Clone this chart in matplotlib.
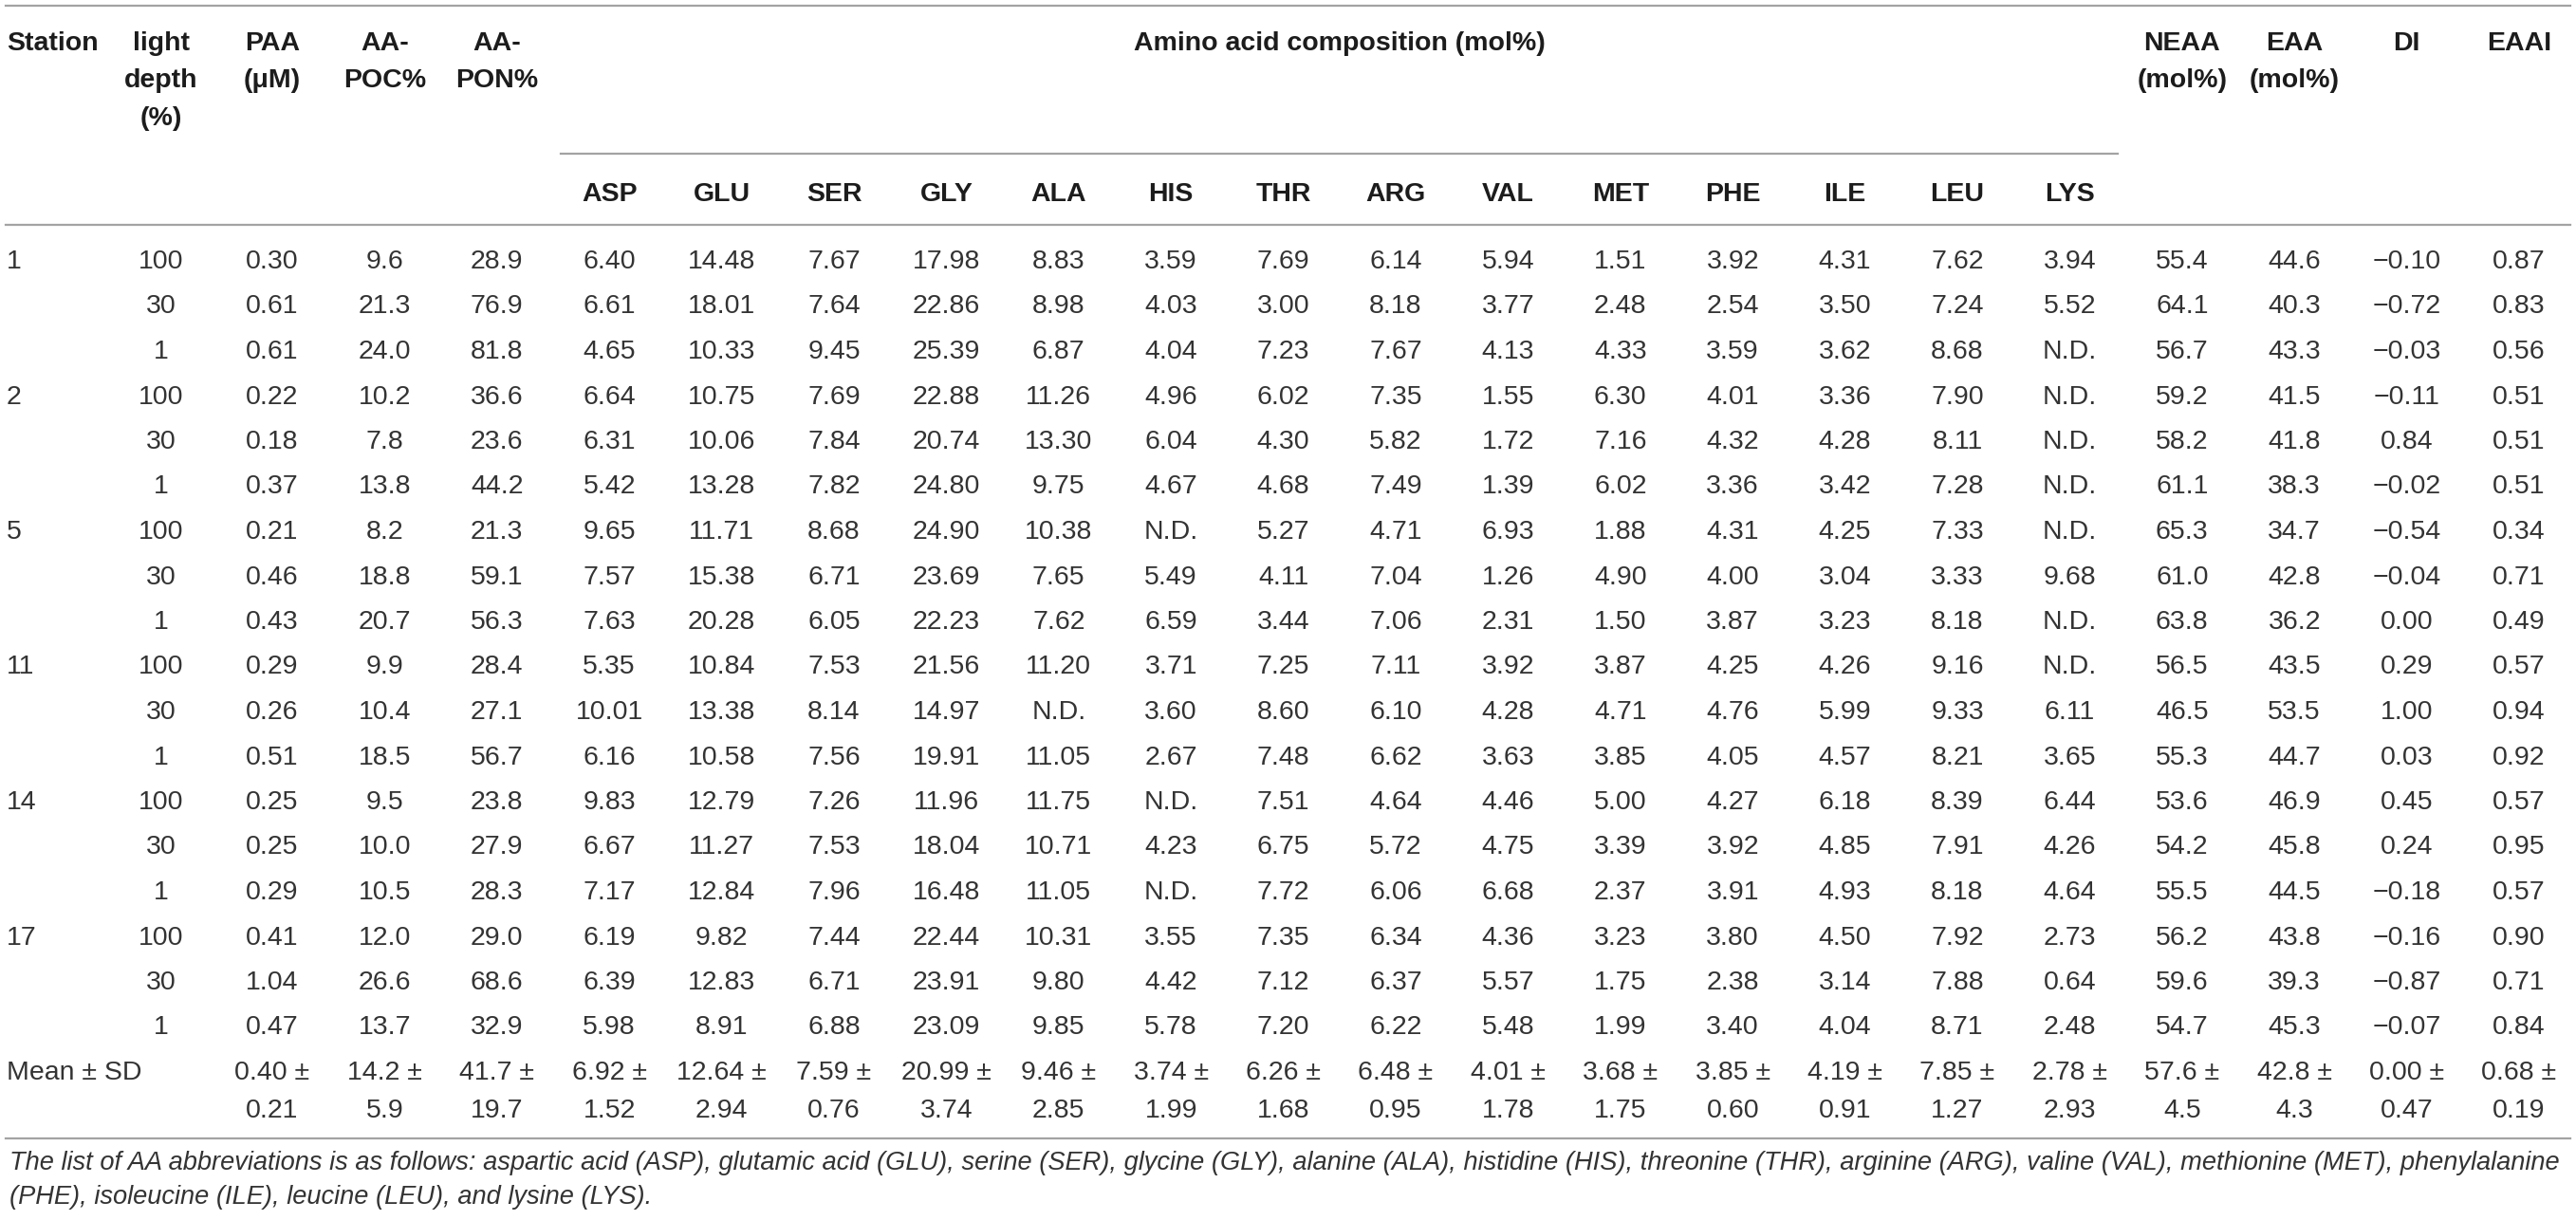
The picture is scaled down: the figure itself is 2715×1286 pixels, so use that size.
import matplotlib
matplotlib.use("Agg")
import matplotlib.pyplot as plt

# ---- table content ----
stations = ["1", "", "", "2", "", "", "5", "", "", "11", "", "", "14", "", "", "17", "", ""]
light_depth = ["100", "30", "1", "100", "30", "1", "100", "30", "1",
               "100", "30", "1", "100", "30", "1", "100", "30", "1"]

paa = ["0.30", "0.61", "0.61", "0.22", "0.18", "0.37", "0.21", "0.46", "0.43",
       "0.29", "0.26", "0.51", "0.25", "0.25", "0.29", "0.41", "1.04", "0.47"]
aa_poc = ["9.6", "21.3", "24.0", "10.2", "7.8", "13.8", "8.2", "18.8", "20.7",
          "9.9", "10.4", "18.5", "9.5", "10.0", "10.5", "12.0", "26.6", "13.7"]
aa_pon = ["28.9", "76.9", "81.8", "36.6", "23.6", "44.2", "21.3", "59.1", "56.3",
          "28.4", "27.1", "56.7", "23.8", "27.9", "28.3", "29.0", "68.6", "32.9"]

asp = ["6.40", "6.61", "4.65", "6.64", "6.31", "5.42", "9.65", "7.57", "7.63",
       "5.35", "10.01", "6.16", "9.83", "6.67", "7.17", "6.19", "6.39", "5.98"]
glu = ["14.48", "18.01", "10.33", "10.75", "10.06", "13.28", "11.71", "15.38", "20.28",
       "10.84", "13.38", "10.58", "12.79", "11.27", "12.84", "9.82", "12.83", "8.91"]
ser = ["7.67", "7.64", "9.45", "7.69", "7.84", "7.82", "8.68", "6.71", "6.05",
       "7.53", "8.14", "7.56", "7.26", "7.53", "7.96", "7.44", "6.71", "6.88"]
gly = ["17.98", "22.86", "25.39", "22.88", "20.74", "24.80", "24.90", "23.69", "22.23",
       "21.56", "14.97", "19.91", "11.96", "18.04", "16.48", "22.44", "23.91", "23.09"]
ala = ["8.83", "8.98", "6.87", "11.26", "13.30", "9.75", "10.38", "7.65", "7.62",
       "11.20", "N.D.", "11.05", "11.75", "10.71", "11.05", "10.31", "9.80", "9.85"]
his = ["3.59", "4.03", "4.04", "4.96", "6.04", "4.67", "N.D.", "5.49", "6.59",
       "3.71", "3.60", "2.67", "N.D.", "4.23", "N.D.", "3.55", "4.42", "5.78"]
thr = ["7.69", "3.00", "7.23", "6.02", "4.30", "4.68", "5.27", "4.11", "3.44",
       "7.25", "8.60", "7.48", "7.51", "6.75", "7.72", "7.35", "7.12", "7.20"]
arg = ["6.14", "8.18", "7.67", "7.35", "5.82", "7.49", "4.71", "7.04", "7.06",
       "7.11", "6.10", "6.62", "4.64", "5.72", "6.06", "6.34", "6.37", "6.22"]
val = ["5.94", "3.77", "4.13", "1.55", "1.72", "1.39", "6.93", "1.26", "2.31",
       "3.92", "4.28", "3.63", "4.46", "4.75", "6.68", "4.36", "5.57", "5.48"]
met = ["1.51", "2.48", "4.33", "6.30", "7.16", "6.02", "1.88", "4.90", "1.50",
       "3.87", "4.71", "3.85", "5.00", "3.39", "2.37", "3.23", "1.75", "1.99"]
phe = ["3.92", "2.54", "3.59", "4.01", "4.32", "3.36", "4.31", "4.00", "3.87",
       "4.25", "4.76", "4.05", "4.27", "3.92", "3.91", "3.80", "2.38", "3.40"]
ile = ["4.31", "3.50", "3.62", "3.36", "4.28", "3.42", "4.25", "3.04", "3.23",
       "4.26", "5.99", "4.57", "6.18", "4.85", "4.93", "4.50", "3.14", "4.04"]
leu = ["7.62", "7.24", "8.68", "7.90", "8.11", "7.28", "7.33", "3.33", "8.18",
       "9.16", "9.33", "8.21", "8.39", "7.91", "8.18", "7.92", "7.88", "8.71"]
lys = ["3.94", "5.52", "N.D.", "N.D.", "N.D.", "N.D.", "N.D.", "9.68", "N.D.",
       "N.D.", "6.11", "3.65", "6.44", "4.26", "4.64", "2.73", "0.64", "2.48"]

neaa = ["55.4", "64.1", "56.7", "59.2", "58.2", "61.1", "65.3", "61.0", "63.8",
        "56.5", "46.5", "55.3", "53.6", "54.2", "55.5", "56.2", "59.6", "54.7"]
eaa = ["44.6", "40.3", "43.3", "41.5", "41.8", "38.3", "34.7", "42.8", "36.2",
       "43.5", "53.5", "44.7", "46.9", "45.8", "44.5", "43.8", "39.3", "45.3"]
di = ["\u22120.10", "\u22120.72", "\u22120.03", "\u22120.11", "0.84", "\u22120.02",
      "\u22120.54", "\u22120.04", "0.00", "0.29", "1.00", "0.03", "0.45", "0.24",
      "\u22120.18", "\u22120.16", "\u22120.87", "\u22120.07"]
eaai = ["0.87", "0.83", "0.56", "0.51", "0.51", "0.51", "0.34", "0.71", "0.49",
        "0.57", "0.94", "0.92", "0.57", "0.95", "0.57", "0.90", "0.71", "0.84"]

mean_vals = ["0.40", "14.2", "41.7", "6.92", "12.64", "7.59", "20.99", "9.46", "3.74",
             "6.26", "6.48", "4.01", "3.68", "3.85", "4.19", "7.85", "2.78",
             "57.6", "42.8", "0.00", "0.68"]
sd_vals = ["0.21", "5.9", "19.7", "1.52", "2.94", "0.76", "3.74", "2.85", "1.99",
           "1.68", "0.95", "1.78", "1.75", "0.60", "0.91", "1.27", "2.93",
           "4.5", "4.3", "0.47", "0.19"]

aa_names = ["ASP", "GLU", "SER", "GLY", "ALA", "HIS", "THR", "ARG",
            "VAL", "MET", "PHE", "ILE", "LEU", "LYS"]
top_headers = [["PAA", "(\u03bcM)"], ["AA-", "POC%"], ["AA-", "PON%"]]
tail_headers = [["NEAA", "(mol%)"], ["EAA", "(mol%)"], ["DI"], ["EAAI"]]

caption_1 = ("The list of AA abbreviations is as follows: aspartic acid (ASP), glutamic acid (GLU), "
             "serine (SER), glycine (GLY), alanine (ALA), histidine (HIS), threonine (THR), "
             "arginine (ARG), valine (VAL), methionine (MET), phenylalanine")
caption_2 = "(PHE), isoleucine (ILE), leucine (LEU), and lysine (LYS)."

value_cols = [paa, aa_poc, aa_pon, asp, glu, ser, gly, ala, his, thr, arg, val,
              met, phe, ile, leu, lys, neaa, eaa, di, eaai]

# ---- layout (pixels) ----
W, H = 2715, 1286
plt.rcParams['font.family'] = ['Liberation Sans', 'DejaVu Sans']
fs = 20.5
hdr_col = '#1c1c1c'
txt_col = '#333333'
line_col = '#a3a3a3'
lw = 1.6

fig = plt.figure(figsize=(W / 100, H / 100), dpi=100)
ax = fig.add_axes([0, 0, 1, 1])
ax.set_xlim(0, W)
ax.set_ylim(H, 0)
ax.axis('off')

x_left = 7
x_depth = 170
x0, dx = 287, 118.4
col_x = [x0 + k * dx for k in range(len(value_cols))]
cap = 10  # half cap height, center -> baseline

row_y0, row_dy = 273, 47.5
hdr_y = [43, 82, 122]


def put(x, y, s, ha='center', bold=False, **kw):
    ax.text(x, y + cap, s, ha=ha, va='baseline', fontsize=fs,
            color=hdr_col if bold else txt_col,
            fontweight='bold' if bold else 'normal', **kw)


# rules
ax.plot([6, 2709], [6, 6], color=line_col, lw=lw)
ax.plot([591, 2232], [162, 162], color=line_col, lw=lw)
ax.plot([6, 2709], [237, 237], color=line_col, lw=lw)
ax.plot([6, 2709], [1200, 1200], color=line_col, lw=lw)

# header
put(x_left, hdr_y[0], "Station", ha='left', bold=True)
for j, s in enumerate(["light", "depth", "(%)"]):
    put(x_depth, hdr_y[j], s, bold=True)
for k, lines in enumerate(top_headers):
    for j, s in enumerate(lines):
        put(col_x[k], hdr_y[j], s, bold=True)
aa_x = col_x[3:3 + len(aa_names)]
put((aa_x[0] + aa_x[-1]) / 2, hdr_y[0], "Amino acid composition (mol%)", bold=True)
for x, s in zip(aa_x, aa_names):
    put(x, 202, s, bold=True)
for k, lines in enumerate(tail_headers):
    for j, s in enumerate(lines):
        put(col_x[3 + len(aa_names) + k], hdr_y[j], s, bold=True)

# body
for i in range(len(light_depth)):
    y = row_y0 + i * row_dy
    put(x_left, y, stations[i], ha='left')
    put(x_depth, y, light_depth[i])
    for x, col in zip(col_x, value_cols):
        put(x, y, col[i])

y_mean = row_y0 + len(light_depth) * row_dy
put(x_left, y_mean, "Mean \u00b1 SD", ha='left')
for x, m, s in zip(col_x, mean_vals, sd_vals):
    put(x, y_mean, m + " \u00b1")
    put(x, y_mean + 40, s)

# caption, scaled to span the table width
c1 = ax.text(10, 1233, caption_1, ha='left', va='baseline', fontsize=16,
             style='italic', color='#333333')
c2 = ax.text(10, 1269, caption_2, ha='left', va='baseline', fontsize=16,
             style='italic', color='#333333')
r = fig.canvas.get_renderer()
wpx = c1.get_window_extent(r).width
new_fs = 16 * (2697 / wpx)
c1.set_fontsize(new_fs)
c2.set_fontsize(new_fs)

fig.savefig("out.png", dpi=100, facecolor='white')
